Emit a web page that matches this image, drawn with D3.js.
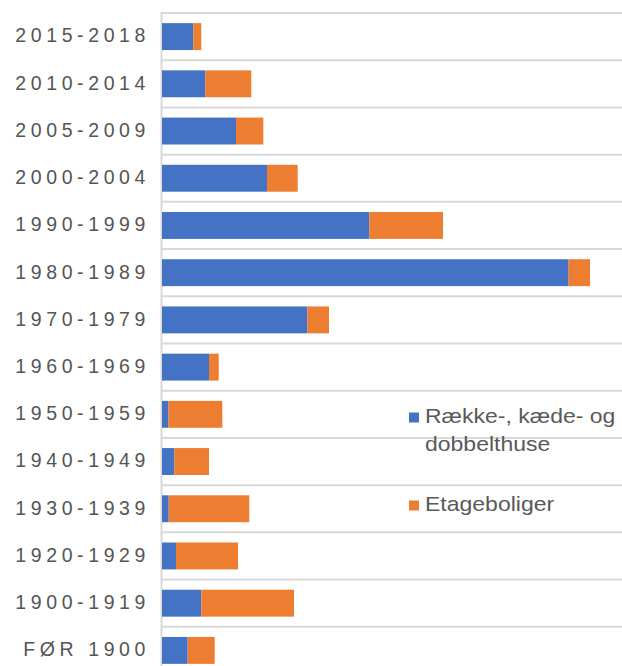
<!DOCTYPE html>
<html>
<head>
<meta charset="utf-8">
<script src="https://cdn.jsdelivr.net/npm/d3@7/dist/d3.min.js"></script>
<style>
  html, body { margin: 0; padding: 0; background: #ffffff; }
  svg { display: block; }
</style>
</head>
<body>
<script>
const categories = ["2015-2018", "2010-2014", "2005-2009", "2000-2004", "1990-1999", "1980-1989",
  "1970-1979", "1960-1969", "1950-1959", "1940-1949", "1930-1939", "1920-1929", "1900-1919", "FØR 1900"];
const seriesNames = ["Række-, kæde- og dobbelthuse", "Etageboliger"];
const raekkehuse = [313, 433, 740, 1050, 2073, 4066, 1453, 470, 63, 123, 67, 140, 393, 257];
const etageboliger = [80, 460, 273, 307, 737, 214, 217, 97, 540, 347, 806, 620, 927, 270];
const colors = ["#4472C4", "#ED7D31"];

const W = 622, H = 666;
const svg = d3.select("body").append("svg").attr("width", W).attr("height", H);
svg.append("rect").attr("width", W).attr("height", H).attr("fill", "#fff");

const x = d3.scaleLinear().domain([0, 4600]).range([162, 622]);
const y = d3.scaleBand().domain(categories).range([13, 674]).paddingInner(0.43).paddingOuter(0.215);

const data = categories.map((c, i) => ({ cat: c, a: raekkehuse[i], b: etageboliger[i] }));
const stack = d3.stack().keys(["a", "b"]);
const layers = stack(data);

// gridlines at band boundaries
const step = y.step();
const r0 = y.range()[0];
const bounds = d3.range(categories.length + 1).map(i => r0 + i * step);
svg.append("g").selectAll("line").data(bounds).join("line")
  .attr("x1", x(0)).attr("x2", W)
  .attr("y1", d => d).attr("y2", d => d)
  .attr("stroke", "#d9d9d9").attr("stroke-width", 2);

// axis line
svg.append("line").attr("x1", x(0) - 0.5).attr("x2", x(0) - 0.5)
  .attr("y1", r0 - 1).attr("y2", H)
  .attr("stroke", "#d9d9d9").attr("stroke-width", 2);

// bars
svg.append("g").selectAll("g").data(layers).join("g")
  .attr("fill", (d, i) => colors[i])
  .selectAll("rect").data(d => d).join("rect")
  .attr("x", d => x(d[0]))
  .attr("width", d => x(d[1]) - x(d[0]))
  .attr("y", d => y(d.data.cat))
  .attr("height", y.bandwidth());

// category labels
const yAxis = d3.axisLeft(y).tickSize(0).tickPadding(0);
const ag = svg.append("g").attr("transform", "translate(150,0)").call(yAxis);
ag.select(".domain").remove();
ag.selectAll("text")
  .attr("font-family", "'Liberation Sans', Arial, sans-serif")
  .attr("font-size", 19.5)
  .attr("letter-spacing", "4.6px")
  .attr("fill", "#555555")
  .attr("dy", "0.3em");

// legend
const lg = svg.append("g").attr("font-family", "'Liberation Sans', Arial, sans-serif")
  .attr("font-size", 20).attr("fill", "#595959");
const legendItems = [
  { lines: ["Række-, kæde- og", "dobbelthuse"], color: colors[0], y: 423 },
  { lines: [seriesNames[1]], color: colors[1], y: 511 }
];
legendItems.forEach(it => {
  lg.append("rect").attr("x", 409).attr("y", it.y - 10.5).attr("width", 10).attr("height", 10).attr("fill", it.color);
  it.lines.forEach((ln, j) => {
    lg.append("text")
      .attr("transform", `translate(425,${it.y + j * 28}) scale(1.15,1)`)
      .text(ln);
  });
});
</script>
</body>
</html>
